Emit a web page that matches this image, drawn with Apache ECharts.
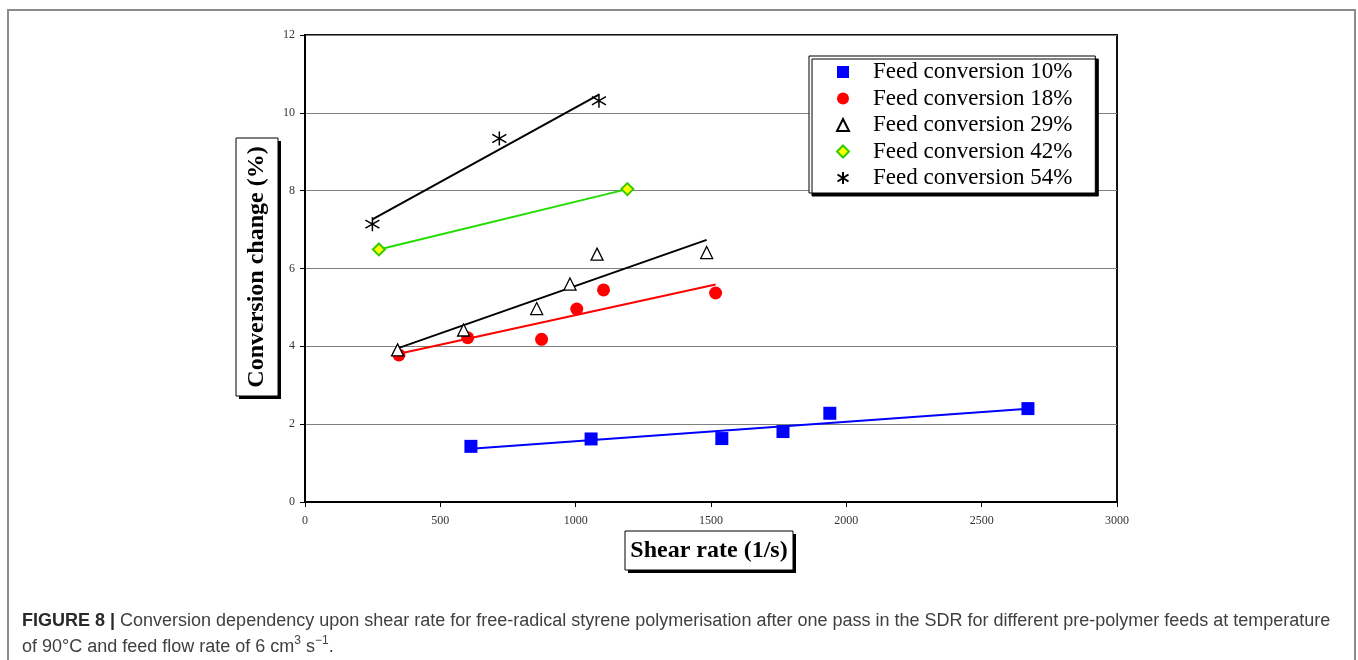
<!DOCTYPE html>
<html>
<head>
<meta charset="utf-8">
<title>Conversion change vs shear rate</title>
<script src="https://cdn.jsdelivr.net/npm/echarts@6/dist/echarts.min.js"></script>
<style>
  html, body { margin: 0; padding: 0; background: #ffffff; }
  #chart { width: 1358px; height: 660px; }
</style>
</head>
<body>
<div id="chart"></div>
<script>
// Shear rate (1/s) and conversion change (%) for each pre-polymer feed
const feedNames = [
  'Feed conversion 10%',
  'Feed conversion 18%',
  'Feed conversion 29%',
  'Feed conversion 42%',
  'Feed conversion 54%'
];
const shear10 = [613, 1057, 1540, 1766, 1939, 2671];
const conv10  = [1.43, 1.62, 1.63, 1.81, 2.28, 2.40];
const shear18 = [347, 601, 874, 1004, 1103, 1517];
const conv18  = [3.78, 4.22, 4.18, 4.96, 5.45, 5.37];
const shear29 = [342, 586, 856, 979, 1079, 1484];
const conv29  = [3.91, 4.42, 4.97, 5.60, 6.37, 6.41];
const shear42 = [273, 1191];
const conv42  = [6.49, 8.04];
const shear54 = [249, 718, 1086];
const conv54  = [7.14, 9.34, 10.31];

// Axis ranges: [min, max, step]
const xRange = [0, 3000, 500];
const yRange = [0, 12, 2];

const xTitle = 'Shear rate (1/s)';
const yTitle = 'Conversion change (%)';
const captionLead = 'FIGURE 8 |';
const captionLine1 = ' Conversion dependency upon shear rate for free-radical styrene polymerisation after one pass in the SDR for different pre-polymer feeds at temperature';
const captionLine2a = 'of 90\u00B0C and feed flow rate of 6 cm';
const captionSup1 = '3';
const captionLine2b = ' s';
const captionSup2 = '\u22121';
const captionEnd = '.';

const xs = [shear10, shear18, shear29, shear42, shear54];
const ys = [conv10, conv18, conv29, conv42, conv54];

// Least-squares trend line spanning the measured shear range of a feed
function trend(x, y) {
  const n = x.length;
  let sx = 0, sy = 0;
  for (let i = 0; i < n; i++) { sx += x[i]; sy += y[i]; }
  const mx = sx / n, my = sy / n;
  let sxx = 0, sxy = 0;
  for (let i = 0; i < n; i++) {
    sxx += (x[i] - mx) * (x[i] - mx);
    sxy += (x[i] - mx) * (y[i] - my);
  }
  const b = sxy / sxx, a = my - b * mx;
  const x0 = Math.min.apply(null, x), x1 = Math.max.apply(null, x);
  return [[x0, a + b * x0], [x1, a + b * x1]];
}

const serif = '"Liberation Serif", "Times New Roman", serif';
const sans = '"Liberation Sans", Arial, sans-serif';

const markerStyles = [
  { symbol: 'rect', symbolSize: 13, itemStyle: { color: '#0000ff' }, line: '#0000ff' },
  { symbol: 'circle', symbolSize: 13, itemStyle: { color: '#ff0000' }, line: '#ff0000' },
  { symbol: 'triangle', symbolSize: 12, itemStyle: { color: '#ffffff', borderColor: '#000000', borderWidth: 1.3 }, line: '#000000' },
  { symbol: 'diamond', symbolSize: 12, itemStyle: { color: '#ffff00', borderColor: '#33cc00', borderWidth: 2 }, line: '#22dd00' },
  { symbol: 'path://M6,0L6,12M0.5,2.5L11.5,9.5M0.5,9.5L11.5,2.5', symbolSize: 14, itemStyle: { color: '#000000', borderColor: '#000000', borderWidth: 1.5 }, line: '#000000' }
];

const series = [];
feedNames.forEach(function (name, k) {
  const m = markerStyles[k];
  series.push({
    name: name + ' fit',
    type: 'line',
    data: trend(xs[k], ys[k]),
    symbol: 'none',
    silent: true,
    z: 2,
    lineStyle: { color: m.line, width: 2 },
    animation: false
  });
});
feedNames.forEach(function (name, k) {
  const m = markerStyles[k];
  series.push({
    name: name,
    type: 'scatter',
    data: xs[k].map(function (v, i) { return [v, ys[k][i]]; }),
    symbol: m.symbol,
    symbolSize: m.symbolSize,
    itemStyle: Object.assign({ opacity: 1 }, m.itemStyle),
    z: 3,
    animation: false
  });
});

function boxWithShadow(x, y, w, h) {
  return [
    { type: 'rect', shape: { x: x + 3, y: y + 3, width: w, height: h }, style: { fill: '#000000' }, z: 10 },
    { type: 'rect', shape: { x: x, y: y, width: w, height: h }, style: { fill: '#ffffff', stroke: '#000000', lineWidth: 1 }, z: 11 }
  ];
}

const chart = echarts.init(document.getElementById('chart'), null, { renderer: 'canvas' });
chart.setOption({
  backgroundColor: '#ffffff',
  animation: false,
  grid: {
    left: 305, top: 35, width: 812, height: 467,
    show: true, borderColor: '#111111', borderWidth: 2, backgroundColor: 'transparent'
  },
  xAxis: {
    type: 'value',
    min: xRange[0], max: xRange[1], interval: xRange[2],
    axisLine: { show: true, onZero: false, lineStyle: { color: '#000000', width: 2 } },
    axisTick: { show: true, inside: false, length: 5, lineStyle: { color: '#000000', width: 1 } },
    axisLabel: { margin: 13, fontFamily: serif, fontSize: 12, color: '#333333',
      formatter: function (v) { return String(v); } },
    splitLine: { show: false }
  },
  yAxis: {
    type: 'value',
    min: yRange[0], max: yRange[1], interval: yRange[2],
    axisLine: { show: true, onZero: false, lineStyle: { color: '#000000', width: 2 } },
    axisTick: { show: true, inside: false, length: 5, lineStyle: { color: '#000000', width: 1 } },
    axisLabel: { margin: 10, fontFamily: serif, fontSize: 12, color: '#333333',
      formatter: function (v) { return String(v); } },
    splitLine: { show: true, lineStyle: { color: '#7f7f7f', width: 1 } }
  },
  legend: {
    data: feedNames,
    orient: 'vertical',
    left: 809, top: 56,
    align: 'left',
    itemWidth: 12, itemHeight: 12,
    itemGap: 0.5,
    padding: [3, 23, 2, 27],
    backgroundColor: '#ffffff',
    borderColor: '#000000',
    borderWidth: 1,
    shadowColor: '#000000',
    shadowBlur: 0,
    shadowOffsetX: 3,
    shadowOffsetY: 3,
    textStyle: { fontFamily: serif, fontSize: 23, lineHeight: 26, color: '#000000', padding: [0, 0, 0, 19] },
    selectedMode: false,
    z: 8
  },
  graphic: [
    // outer figure frame
    { type: 'rect', shape: { x: 8, y: 10, width: 1347, height: 700 }, style: { fill: 'none', stroke: '#8c8c8c', lineWidth: 2 }, z: 1, silent: true }
  ].concat(boxWithShadow(236, 138, 42, 258)).concat([
    { type: 'text', x: 257, y: 267, rotation: Math.PI / 2, z: 12,
      style: { text: yTitle, font: 'bold 24px ' + serif, fill: '#000000', textAlign: 'center', textVerticalAlign: 'middle' } }
  ]).concat(boxWithShadow(625, 531, 168, 39)).concat([
    { type: 'text', x: 709, y: 551, z: 12,
      style: { text: xTitle, font: 'bold 24px ' + serif, fill: '#000000', textAlign: 'center', textVerticalAlign: 'middle' } },
    { type: 'text', x: 22, y: 608, z: 12,
      style: {
        text: '{b|' + captionLead + '}' + captionLine1 + '\n' + captionLine2a + '{sup|' + captionSup1 + '}' + captionLine2b + '{sup|' + captionSup2 + '}' + captionEnd,
        font: '18px ' + sans,
        fill: '#404040',
        lineHeight: 26,
        rich: {
          b: { fontFamily: sans, fontSize: 18, fontWeight: 'bold', fill: '#2a2a2a', lineHeight: 26 },
          sup: { fontFamily: sans, fontSize: 12, fill: '#404040', padding: [0, 0, 13, 0], lineHeight: 26 }
        }
      } }
  ]),
  series: series
});
</script>
</body>
</html>
